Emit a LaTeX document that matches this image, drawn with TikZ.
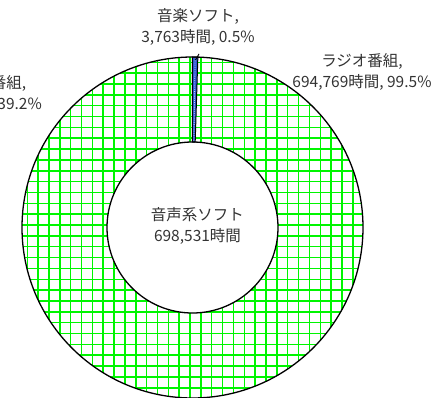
\documentclass[tikz,border=0pt]{standalone}
\usepackage{fontspec}
\setmainfont{Noto Sans CJK JP}
\definecolor{gridgreen}{RGB}{0,245,0}
\definecolor{slicebl}{RGB}{45,85,210}
\begin{document}
\begin{tikzpicture}[x=1pt,y=1pt,
  lbl/.style={font=\fontsize{15.5}{21.5}\selectfont, text=black!80, align=center, inner sep=0pt},
  gridline/.style={draw=gridgreen, line width=1.5pt},
  ringedge/.style={draw=black, line width=1.3pt},
  leader/.style={draw=black, line width=0.9pt}]
\useasboundingbox (-192.5,-169.5) rectangle (241.5,227.5);
% green grid slice (ラジオ番組)
\begin{scope}[even odd rule]
  \clip (0,0) circle (170.5) (0,0) circle (85.5);
  \fill[white] (0,0) circle (170.5);
  \foreach \i in {-1,...,32} { \draw[gridline] (-165.2+\i*10.85,-180) -- ++(0,360); }
  \foreach \j in {-18,...,15} { \draw[gridline] (-180,24.2+\j*10.85) -- ++(360,0); }
\end{scope}
% blue slice (音楽ソフト)
\filldraw[fill=slicebl, draw=black, line width=1pt]
  (90:170.5) arc[start angle=90, end angle=88.2, radius=170.5]
  -- (88.2:85.5) arc[start angle=88.2, end angle=90, radius=85.5] -- cycle;
\draw[white!80!slicebl, line width=0.8pt, dash pattern=on 1pt off 1.2pt] (89.1:87) -- (89.1:169);
% ring outlines
\draw[ringedge] (0,0) circle (170.5);
\draw[ringedge] (0,0) circle (85.5);
% labels
\node[lbl] (mus) at (5.5,200.5) {音楽ソフト,\\3,763時間, 0.5\%};
\node[lbl] (radio) at (169.5,155.5) {ラジオ番組,\\694,769時間, 99.5\%};
\node[lbl] (center) at (5,1.5) {音声系ソフト\\698,531時間};
\node[lbl, anchor=east] (leftA) at (-166,144.5) {番組,};
\node[lbl, anchor=east] (leftB) at (-150.5,123.5) {39.2\%};
\coordinate (musend) at (89:167.5);
\draw[leader] ([shift={(1,-8)}]mus.south) -- (musend);
\end{tikzpicture}
\end{document}
